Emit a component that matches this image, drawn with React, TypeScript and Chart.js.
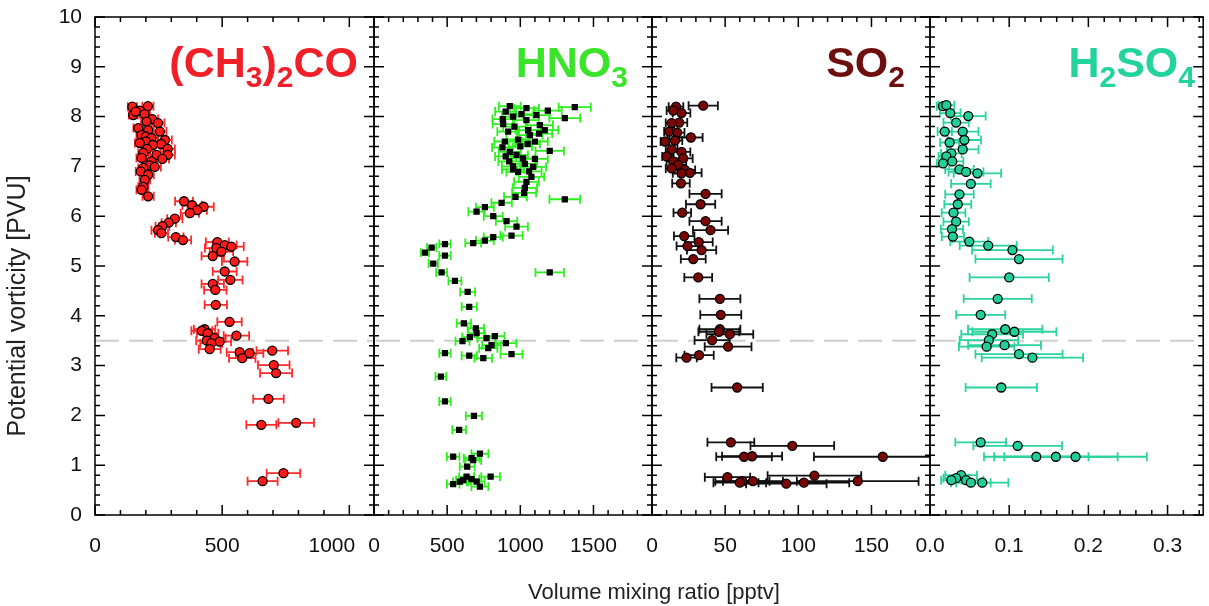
import React, { useEffect, useRef } from 'react';
import { Chart, registerables } from 'chart.js';

Chart.register(...registerables);

// ---------- data ----------
const pvTicks = [0, 1, 2, 3, 4, 5, 6, 7, 8, 9, 10];
const acetoneTicks = [0, 500, 1000];
const hno3Ticks = [0, 500, 1000, 1500];
const so2Ticks = [0, 50, 100, 150];
const h2so4Ticks = [0, 0.1, 0.2, 0.3];
const tropopausePV = 3.5;

// [mixing ratio (pptv), potential vorticity (PVU), error (pptv)]
const acetone: number[][] = [
  [147, 8.2, 18], [208, 8.21, 22], [176, 8.12, 20], [150, 8.03, 17], [160, 8.1, 18], [195, 8.05, 21],
  [225, 7.95, 23], [203, 7.9, 22], [248, 7.87, 25], [170, 7.77, 19], [209, 7.73, 22], [255, 7.7, 26],
  [183, 7.63, 20], [200, 7.6, 21], [222, 7.57, 23], [275, 7.53, 27], [200, 7.5, 21], [176, 7.47, 19],
  [260, 7.45, 26], [228, 7.43, 24], [286, 7.35, 28], [205, 7.35, 22], [190, 7.27, 20], [242, 7.23, 25],
  [286, 7.23, 28], [183, 7.17, 20], [265, 7.15, 26], [222, 7.1, 23], [215, 7.02, 22], [190, 6.97, 20],
  [235, 6.99, 24], [180, 6.9, 20], [209, 6.83, 22], [196, 6.73, 21], [190, 6.59, 20], [183, 6.53, 20],
  [209, 6.4, 22], [350, 6.3, 35], [382, 6.22, 38], [427, 6.19, 40], [402, 6.12, 38], [373, 6.06, 36],
  [314, 5.95, 30], [290, 5.87, 28], [265, 5.8, 27], [248, 5.72, 26], [261, 5.66, 26], [318, 5.58, 30],
  [346, 5.52, 32], [481, 5.48, 45], [510, 5.42, 47], [536, 5.39, 49], [477, 5.36, 45], [497, 5.29, 46],
  [463, 5.2, 44], [549, 5.09, 50], [510, 4.89, 47], [532, 4.72, 48], [463, 4.64, 44], [473, 4.52, 44],
  [475, 4.22, 44], [529, 3.88, 48], [431, 3.73, 42], [420, 3.7, 41], [443, 3.65, 42], [556, 3.6, 50],
  [470, 3.55, 44], [440, 3.5, 42], [490, 3.48, 45], [457, 3.45, 43], [451, 3.33, 43], [569, 3.27, 51],
  [608, 3.25, 54], [579, 3.15, 52], [697, 3.3, 62], [703, 3.01, 62], [712, 2.85, 63], [682, 2.33, 60],
  [654, 1.81, 59], [791, 1.85, 70], [741, 0.84, 66], [659, 0.68, 59],
];

const hno3: number[][] = [
  [928, 8.21, 75], [1042, 8.17, 85], [1188, 8.12, 95], [1372, 8.19, 110], [1304, 7.97, 105], [1008, 8.05, 80],
  [1110, 8.03, 90], [900, 8.1, 72], [1042, 7.93, 85], [951, 8.0, 76], [880, 7.95, 70], [883, 7.85, 72],
  [1133, 7.83, 90], [960, 7.8, 77], [1167, 7.73, 93], [1128, 7.66, 90], [1053, 7.73, 85], [917, 7.7, 74],
  [985, 7.54, 80], [1065, 7.63, 86], [1100, 7.5, 88], [894, 7.5, 72], [1050, 7.45, 84], [1000, 7.4, 80],
  [878, 7.38, 71], [928, 7.29, 75], [1201, 7.31, 97], [974, 7.23, 78], [900, 7.2, 72], [1019, 7.16, 82],
  [1100, 7.15, 88], [924, 7.1, 74], [1031, 7.05, 83], [1088, 6.99, 88], [950, 7.0, 76], [951, 6.94, 76],
  [985, 6.89, 80], [1060, 6.9, 85], [1076, 6.79, 87], [1042, 6.69, 84], [1031, 6.57, 83], [1026, 6.47, 82],
  [1304, 6.34, 105], [967, 6.39, 78], [872, 6.27, 70], [758, 6.18, 61], [701, 6.09, 56], [815, 6.0, 65],
  [906, 5.9, 73], [974, 5.79, 78], [940, 5.61, 76], [815, 5.58, 65], [758, 5.51, 61], [678, 5.46, 54],
  [485, 5.44, 39], [394, 5.37, 32], [348, 5.27, 28], [485, 5.21, 39], [405, 5.05, 32], [462, 4.87, 37],
  [1201, 4.87, 97], [553, 4.7, 44], [640, 4.48, 51], [651, 4.18, 52], [614, 3.85, 49], [696, 3.75, 56],
  [701, 3.65, 56], [655, 3.57, 52], [605, 3.49, 48], [769, 3.55, 62], [826, 3.59, 66], [901, 3.45, 72],
  [803, 3.41, 64], [781, 3.35, 62], [940, 3.23, 75], [485, 3.25, 39], [651, 3.2, 52], [747, 3.15, 60],
  [457, 2.78, 37], [485, 2.28, 39], [683, 1.99, 55], [582, 1.71, 47], [541, 1.17, 43], [724, 1.23, 58],
  [667, 1.14, 53], [678, 1.1, 54], [637, 0.97, 51], [797, 0.77, 64], [633, 0.77, 51], [667, 0.72, 53],
  [610, 0.7, 49], [587, 0.67, 47], [701, 0.67, 56], [541, 0.62, 43], [724, 0.57, 58],
];

const so2: number[][] = [
  [35, 8.22, 10], [16.4, 8.2, 5], [20.2, 8.07, 6], [14.5, 8.12, 4.5], [18.6, 7.88, 5.5], [13.4, 7.87, 4],
  [11.8, 7.7, 3.5], [17.2, 7.68, 5], [26.6, 7.58, 8], [8.9, 7.5, 3], [15.7, 7.52, 5], [13.4, 7.34, 4],
  [20.2, 7.29, 6], [10, 7.2, 3], [21.3, 7.16, 6.5], [14.5, 7.1, 4.5], [17.9, 7.03, 5.5], [13.4, 6.96, 4],
  [22.5, 6.93, 7], [25.9, 6.87, 8], [20.2, 6.86, 6], [19.8, 6.66, 6], [36.6, 6.45, 11], [33.2, 6.24, 10],
  [20.7, 6.07, 6], [36.6, 5.9, 11], [40, 5.72, 12], [22, 5.6, 7], [32, 5.48, 9.5], [24.3, 5.4, 7.5],
  [33.9, 5.32, 10], [28.2, 5.14, 8.5], [31.6, 4.77, 9.5], [46.4, 4.34, 14], [47, 4.02, 14], [46.4, 3.73, 14],
  [45.7, 3.68, 14], [53.2, 3.63, 16], [41.1, 3.51, 12], [52, 3.38, 16], [32.2, 3.21, 10], [23.6, 3.16, 7],
  [58.2, 2.56, 17.5], [53.9, 1.46, 16], [95.9, 1.39, 28.6], [157.7, 1.17, 47], [62.9, 1.17, 19], [68.4, 1.18, 20.5],
  [111, 0.79, 32], [51.6, 0.76, 15.5], [61.8, 0.68, 18.5], [69, 0.68, 20.5], [91.8, 0.63, 27.5], [103.8, 0.65, 31],
  [140.6, 0.68, 41.6], [60, 0.65, 18],
];

const h2so4: number[][] = [
  [0.0165, 8.21, 0.008], [0.0207, 8.23, 0.01], [0.0256, 8.07, 0.013], [0.0483, 8.01, 0.022], [0.033, 7.88, 0.016],
  [0.0186, 7.7, 0.009], [0.0413, 7.7, 0.02], [0.0434, 7.53, 0.021], [0.0248, 7.48, 0.012], [0.0413, 7.34, 0.02],
  [0.0269, 7.26, 0.013], [0.0207, 7.2, 0.01], [0.0281, 7.1, 0.014], [0.0165, 7.06, 0.008], [0.0372, 6.94, 0.018],
  [0.0455, 6.89, 0.022], [0.0599, 6.86, 0.03], [0.0516, 6.65, 0.025], [0.0372, 6.44, 0.018], [0.0351, 6.24, 0.017],
  [0.0297, 6.07, 0.015], [0.033, 5.89, 0.016], [0.0277, 5.74, 0.014], [0.0289, 5.59, 0.014], [0.0496, 5.49, 0.024],
  [0.0735, 5.41, 0.036], [0.1041, 5.32, 0.051], [0.1124, 5.14, 0.055], [0.1, 4.77, 0.05], [0.0855, 4.34, 0.043],
  [0.064, 4.02, 0.031], [0.095, 3.73, 0.047], [0.1066, 3.68, 0.053], [0.0785, 3.63, 0.039], [0.0744, 3.51, 0.037],
  [0.0715, 3.38, 0.035], [0.0942, 3.41, 0.046], [0.1124, 3.23, 0.055], [0.1293, 3.16, 0.064], [0.09, 2.56, 0.045],
  [0.064, 1.46, 0.032], [0.1107, 1.39, 0.056], [0.1342, 1.17, 0.066], [0.159, 1.17, 0.078], [0.1838, 1.17, 0.09],
  [0.0393, 0.8, 0.02], [0.033, 0.74, 0.016], [0.0455, 0.7, 0.022], [0.0516, 0.65, 0.025], [0.066, 0.65, 0.033],
  [0.027, 0.7, 0.013],
];

// ---------- presentation ----------
const FONT = "'Liberation Sans', Arial, Helvetica, sans-serif";
const W = 1209;
const H = 606;
const PLOT_TOP = 17;
const PLOT_BOTTOM = 515;
const Y_TITLE = 'Potential vorticity [PVU]';
const X_TITLE = 'Volume mixing ratio [pptv]';

interface PanelSpec {
  data: number[][];
  ticks: number[];
  xMax: number;
  minor: number;
  decimals: number;
  left: number;
  right: number;
  fill: string;
  border: string;
  errColor: string;
  style: string;
  radius: number;
  nudgeLast: number; // trailing spaces to shift the last tick label left
}

const panels: PanelSpec[] = [
  { data: acetone, ticks: acetoneTicks, xMax: 1097, minor: 100, decimals: 0, left: 95, right: 374,
    fill: '#ff1a1a', border: '#000', errColor: '#ff2a2a', style: 'circle', radius: 4.5, nudgeLast: 6 },
  { data: hno3, ticks: hno3Ticks, xMax: 1900, minor: 100, decimals: 0, left: 374, right: 652,
    fill: '#000', border: '#000', errColor: '#2ef01e', style: 'rect', radius: 3.5, nudgeLast: 0 },
  { data: so2, ticks: so2Ticks, xMax: 190, minor: 10, decimals: 0, left: 652, right: 930,
    fill: '#7a0606', border: '#000', errColor: '#111', style: 'circle', radius: 4.5, nudgeLast: 0 },
  { data: h2so4, ticks: h2so4Ticks, xMax: 0.345, minor: 0.02, decimals: 1, left: 930, right: 1208,
    fill: '#22cf98', border: '#000', errColor: '#2ad49c', style: 'circle', radius: 4.5, nudgeLast: 0 },
];

const titles = [
  { color: '#f01f28', right: 358, parts: [['(CH', 0], ['3', 1], [')', 0], ['2', 1], ['CO', 0]] },
  { color: '#3be42a', right: 628, parts: [['HNO', 0], ['3', 1]] },
  { color: '#6e0f0f', right: 905, parts: [['SO', 0], ['2', 1]] },
  { color: '#22d39b', right: 1195, parts: [['H', 0], ['2', 1], ['SO', 0], ['4', 1]] },
];

function PanelChart({ spec, index }: { spec: PanelSpec; index: number }) {
  const ref = useRef<HTMLCanvasElement>(null);
  const first = index === 0;
  const padL = first ? 0 : 25;
  const padR = index === panels.length - 1 ? W - spec.right : 25;
  const canvasLeft = first ? 0 : spec.left - padL;
  const canvasW = spec.right + padR - canvasLeft;

  useEffect(() => {
    if (!ref.current) return;

    const decoPlugin = {
      id: 'deco' + index,
      beforeDatasetsDraw(chart: any) {
        const { ctx, chartArea: a, scales } = chart;
        const x = scales.x;
        const y = scales.y;
        ctx.save();
        ctx.beginPath();
        ctx.rect(a.left, a.top, a.right - a.left, a.bottom - a.top);
        ctx.clip();
        const ty = y.getPixelForValue(tropopausePV);
        ctx.strokeStyle = '#cfcfcf';
        ctx.lineWidth = 2;
        ctx.setLineDash([24, 10]);
        ctx.lineDashOffset = a.left - 95;
        ctx.beginPath();
        ctx.moveTo(a.left, ty);
        ctx.lineTo(a.right, ty);
        ctx.stroke();
        ctx.setLineDash([]);
        ctx.strokeStyle = spec.errColor;
        ctx.lineWidth = 1.8;
        const pts = chart.data.datasets[0].data as any[];
        pts.forEach((p) => {
          const x0 = x.getPixelForValue(p.x - p.e);
          const x1 = x.getPixelForValue(p.x + p.e);
          const py = y.getPixelForValue(p.y);
          ctx.beginPath();
          ctx.moveTo(x0, py);
          ctx.lineTo(x1, py);
          ctx.moveTo(x0, py - 4.5);
          ctx.lineTo(x0, py + 4.5);
          ctx.moveTo(x1, py - 4.5);
          ctx.lineTo(x1, py + 4.5);
          ctx.stroke();
        });
        ctx.restore();
      },
      afterDatasetsDraw(chart: any) {
        const { ctx, chartArea: a, scales } = chart;
        const x = scales.x;
        const y = scales.y;
        ctx.save();
        ctx.strokeStyle = '#000';
        ctx.lineWidth = 1.5;
        ctx.strokeRect(a.left, a.top, a.right - a.left, a.bottom - a.top);
        ctx.beginPath();
        for (let k = 0; k <= 50; k++) {
          const py = y.getPixelForValue(k * 0.2);
          const len = k % 5 === 0 ? 10 : 5;
          ctx.moveTo(a.left, py);
          ctx.lineTo(a.left + len, py);
          ctx.moveTo(a.right, py);
          ctx.lineTo(a.right - len, py);
        }
        const nX = Math.floor(spec.xMax / spec.minor + 1e-9);
        for (let k = 0; k <= nX; k++) {
          const px = x.getPixelForValue(k * spec.minor);
          const len = k % 5 === 0 ? 10 : 5;
          ctx.moveTo(px, a.bottom);
          ctx.lineTo(px, a.bottom - len);
          ctx.moveTo(px, a.top);
          ctx.lineTo(px, a.top + len);
        }
        ctx.stroke();
        if (first) {
          // y-axis title
          ctx.fillStyle = '#222';
          ctx.font = `25px ${FONT}`;
          ctx.textAlign = 'center';
          ctx.textBaseline = 'middle';
          ctx.translate(18, 306);
          ctx.rotate(-Math.PI / 2);
          ctx.fillText(Y_TITLE, 0, 0);
        }
        ctx.restore();
      },
    };

    const lastTick = spec.ticks[spec.ticks.length - 1];

    const chart = new Chart(ref.current, {
      type: 'scatter',
      data: {
        datasets: [
          {
            data: spec.data.map(([vx, vy, ve]) => ({ x: vx, y: vy, e: ve })),
            pointStyle: spec.style as any,
            pointRadius: spec.radius,
            pointBackgroundColor: spec.fill,
            pointBorderColor: spec.border,
            pointBorderWidth: 1.3,
            showLine: false,
          } as any,
        ],
      },
      options: {
        responsive: false,
        animation: false,
        devicePixelRatio: 1,
        events: [],
        layout: { padding: { left: padL, right: padR, top: PLOT_TOP, bottom: 0 } },
        plugins: { legend: { display: false }, tooltip: { enabled: false }, title: { display: false } },
        scales: {
          x: {
            type: 'linear',
            min: 0,
            max: spec.xMax,
            grid: { display: false, drawTicks: false },
            border: { display: false },
            afterBuildTicks: (s: any) => {
              s.ticks = spec.ticks.map((v) => ({ value: v }));
            },
            afterFit: (s: any) => {
              s.height = H - PLOT_BOTTOM;
              s.paddingLeft = 0;
              s.paddingRight = 0;
            },
            ticks: {
              padding: 19,
              autoSkip: false,
              maxRotation: 0,
              color: '#111',
              font: { family: FONT, size: 21 },
              callback: (v: any) => {
                const txt = Number(v).toFixed(spec.decimals);
                return Number(v) === lastTick && spec.nudgeLast ? txt + ' '.repeat(spec.nudgeLast) : txt;
              },
            },
          },
          y: {
            type: 'linear',
            min: 0,
            max: 10,
            display: first,
            grid: { display: false, drawTicks: false },
            border: { display: false },
            afterBuildTicks: (s: any) => {
              s.ticks = pvTicks.map((v) => ({ value: v }));
            },
            afterFit: (s: any) => {
              if (first) s.width = spec.left;
              s.paddingTop = 0;
              s.paddingBottom = 0;
            },
            ticks: {
              padding: 13,
              autoSkip: false,
              color: '#111',
              font: { family: FONT, size: 21 },
              callback: (v: any) => String(v),
            },
            title: { display: false },
          },
        },
      } as any,
      plugins: [decoPlugin],
    });
    return () => chart.destroy();
  }, []);

  return (
    <canvas
      ref={ref}
      width={canvasW}
      height={H}
      style={{ position: 'absolute', left: canvasLeft, top: 0, width: canvasW, height: H }}
    />
  );
}

export default function App() {
  return (
    <div style={{ position: 'absolute', left: 0, top: 0, width: W, height: H, background: '#fff', overflow: 'hidden' }}>
      {panels.map((p, i) => (
        <PanelChart key={i} spec={p} index={i} />
      ))}
      {titles.map((t, i) => (
        <div
          key={'t' + i}
          style={{
            position: 'absolute',
            top: 41,
            right: W - t.right,
            font: `bold 43px ${FONT}`,
            lineHeight: '43px',
            color: t.color,
            whiteSpace: 'nowrap',
          }}
        >
          {t.parts.map(([s, sub], j) =>
            sub ? (
              <span key={j} style={{ fontSize: 30, verticalAlign: -10 }}>{s}</span>
            ) : (
              <span key={j}>{s}</span>
            )
          )}
        </div>
      ))}
      <div
        style={{
          position: 'absolute',
          left: 654 - 250,
          width: 500,
          top: 579,
          textAlign: 'center',
          font: `22px ${FONT}`,
          lineHeight: '26px',
          color: '#222',
        }}
      >
        {X_TITLE}
      </div>
    </div>
  );
}
